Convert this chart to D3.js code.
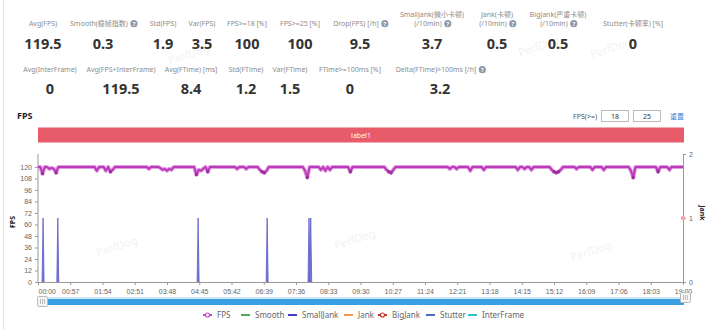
<!DOCTYPE html>
<html><head><meta charset="utf-8">
<script src="https://cdn.jsdelivr.net/npm/d3@7/dist/d3.min.js"></script>
<style>
html,body{margin:0;padding:0;background:#fff;}
svg{display:block;font-family:"Noto Sans","Noto Sans CJK SC",sans-serif;}
</style></head>
<body>
<svg id="c" width="720" height="330"></svg>
<script>
// ---------- DATA ----------
const statLabels1 = [["Avg(FPS)"],["Smooth(稳帧指数)"],["Std(FPS)"],["Var(FPS)"],["FPS>=18 [%]"],["FPS>=25 [%]"],["Drop(FPS) [/h]"],["SmallJank(微小卡顿)","(/10min)"],["Jank(卡顿)","(/10min)"],["BigJank(严重卡顿)","(/10min)"],["Stutter(卡顿率) [%]"]];
const statValues1 = ["119.5","0.3","1.9","3.5","100","100","9.5","3.7","0.5","0.5","0"];
const statHelp1 = [false,true,false,false,false,false,true,true,true,true,false];
const statLabels2 = ["Avg(InterFrame)","Avg(FPS+InterFrame)","Avg(FTime) [ms]","Std(FTime)","Var(FTime)","FTime>=100ms [%]","Delta(FTime)>100ms [/h]"];
const statValues2 = ["0","119.5","8.4","1.2","1.5","0","3.2"];
const statHelp2 = [false,false,false,false,false,false,true];

const xTickLabels = ["00:00","00:57","01:54","02:51","03:48","04:45","05:42","06:39","07:36","08:33","09:30","10:27","11:24","12:21","13:18","14:15","15:12","16:09","17:06","18:03","19:00"];
const yTicks = [0,12,24,36,48,60,72,84,96,108,120];
const yRightTicks = [0,1,2];
const fpsStep = 4; // seconds between FPS samples
const fpsValues = [
120,120,113,120,120,118,119,118,114,120,120,120,120,120,120,120,120,120,120,120,
120,120,120,120,120,120,116,120,120,120,116,120,115,117,120,120,120,120,120,120,
120,120,120,120,120,120,120,120,120,118,120,120,120,120,119,117,118,116,118,117,
120,120,120,120,120,120,120,120,120,120,112,117,116,118,120,115,120,120,120,120,
120,120,120,120,120,120,120,120,118,120,120,120,118,120,120,120,120,120,117,115,
114,116,120,120,120,120,120,120,120,120,120,120,120,120,120,120,120,120,116,109,
120,120,120,120,120,117,120,116,120,117,120,120,120,120,120,120,120,120,115,120,
120,120,120,120,120,120,120,120,120,120,120,120,120,120,117,115,114,117,120,120,
120,120,120,120,120,120,120,120,120,120,120,120,120,120,120,120,120,120,120,120,
120,120,118,120,120,118,120,120,120,120,120,116,120,120,120,120,120,117,120,120,
120,120,120,120,120,120,120,120,120,120,120,120,117,120,120,118,120,120,117,120,
120,120,120,120,120,120,120,117,115,114,115,117,120,120,120,120,120,120,118,120,
120,120,120,120,120,117,120,120,120,120,117,120,120,120,120,120,120,120,120,120,
120,120,116,109,120,120,120,120,120,120,120,120,120,120,115,120,120,120,120,117,
120,120,120,120,120,120];
const smallJankTimes = [9,35,283,405,479,482];
const smallJankValues = [1,1,1,1,1,1];
const bigJankTimes = [1140];
const bigJankValues = [1];
const legendNames = ["FPS","Smooth","SmallJank","Jank","BigJank","Stutter","InterFrame"];
const legendColors = ["#c44dc4","#4caf50","#3f3fc9","#f39a4a","#c0392b","#4a6fc1","#2ec4c4"];

// ---------- DRAW ----------
const svg = d3.select("#c");
svg.append("rect").attr("width",720).attr("height",330).attr("fill","#fff");
svg.append("line").attr("x1",3.5).attr("x2",3.5).attr("y1",0).attr("y2",330).attr("stroke","#e4e4e4");

// watermarks
[[190,58],[540,50],[612,52],[118,250],[356,243],[592,255]].forEach(p=>{
  svg.append("text").attr("x",p[0]).attr("y",p[1]).attr("transform",`rotate(-18,${p[0]},${p[1]})`)
    .attr("text-anchor","middle").attr("font-size",11).attr("fill","#000").attr("opacity",0.05).text("PerfDog");
});

function help(g,x,y){
  g.append("circle").attr("cx",x).attr("cy",y).attr("r",3.6).attr("fill","#8f9ba8");
  g.append("text").attr("x",x).attr("y",y+2.3).attr("text-anchor","middle").attr("font-size",5.5).attr("font-weight","bold").attr("fill","#fff").text("?");
}
const labelColor = "#8c8c8c";
const st = svg.append("g");
const stX1 = [43,103,163,202,247,300,360,432,497,558,633];
statLabels1.forEach((lab,i)=>{
  const lines = lab;
  const ys = lines.length===2 ? [17,26] : [26];
  lines.forEach((t,j)=>{
    const tx = st.append("text").attr("x",stX1[i] - ((statHelp1[i] && j===lines.length-1)?4:0)).attr("y",ys[j])
      .attr("text-anchor","middle").attr("font-size",7).attr("fill",labelColor).text(t);
    if(statHelp1[i] && j===lines.length-1){
      const w = tx.node().getComputedTextLength();
      help(st, stX1[i]-4 + w/2 + 6, ys[j]-2.3);
    }
  });
  st.append("text").attr("x",stX1[i]).attr("y",49).attr("text-anchor","middle")
    .attr("font-size",14.5).attr("font-weight","bold").attr("fill","#333").text(statValues1[i]);
});
const stX2 = [50,121,191,246,290,350,440];
statLabels2.forEach((t,i)=>{
  const tx = st.append("text").attr("x",stX2[i] - (statHelp2[i]?4:0)).attr("y",72).attr("text-anchor","middle")
    .attr("font-size",7).attr("fill",labelColor).text(t);
  if(statHelp2[i]){ const w = tx.node().getComputedTextLength(); help(st, stX2[i]-4+w/2+6, 69.7); }
  st.append("text").attr("x",stX2[i]).attr("y",94).attr("text-anchor","middle")
    .attr("font-size",14.5).attr("font-weight","bold").attr("fill","#333").text(statValues2[i]);
});

// section header and controls
svg.append("text").attr("x",17).attr("y",119).attr("font-size",9).attr("font-weight","bold").attr("fill","#222").text("FPS");
svg.append("text").attr("x",597).attr("y",119).attr("text-anchor","end").attr("font-size",7).attr("fill","#555").text("FPS(>=)");
[["18",601],["25",633]].forEach(b=>{
  svg.append("rect").attr("x",b[1]+0.5).attr("y",110.5).attr("width",27).attr("height",11).attr("fill","#fff").attr("stroke","#bbb");
  svg.append("text").attr("x",b[1]+14).attr("y",119).attr("text-anchor","middle").attr("font-size",7).attr("fill","#333").text(b[0]);
});
svg.append("text").attr("x",677).attr("y",119).attr("text-anchor","middle").attr("font-size",7).attr("fill","#3d7fd6").text("重置");

// label bar
svg.append("rect").attr("x",38).attr("y",127.5).attr("width",646).attr("height",15).attr("fill","#e85b6b");
svg.append("text").attr("x",361).attr("y",137.5).attr("text-anchor","middle").attr("font-size",7).attr("fill","#fff").text("label1");

// scales
const x = d3.scaleLinear().domain([0,1140]).range([38,683]);
const yL = d3.scaleLinear().domain([0,133.5]).range([282,154]);
const yR = d3.scaleLinear().domain([0,2]).range([282,154]);
const parseT = s => { const p=s.split(":"); return (+p[0])*60 + (+p[1]); };

// axes
const gx = svg.append("g").attr("transform","translate(0,282)")
  .call(d3.axisBottom(x).tickValues(xTickLabels.map(parseT)).tickFormat((d,i)=>xTickLabels[i]).tickSize(3).tickSizeOuter(0));
gx.selectAll("text").attr("font-size",7).attr("fill","#666").attr("dy","0.9em");
gx.selectAll("text").filter((d,i)=>i===0).attr("text-anchor","start");
const gy = svg.append("g").attr("transform","translate(38,0)")
  .call(d3.axisLeft(yL).tickValues(yTicks).tickSize(3).tickSizeOuter(0));
gy.selectAll("text").attr("font-size",7).attr("fill","#666");
gy.select(".domain").attr("d","M0,154V282");
const gr = svg.append("g").attr("transform","translate(683,0)")
  .call(d3.axisRight(yR).tickValues(yRightTicks).tickFormat(d3.format("d")).tickSize(3).tickSizeOuter(0));
gr.selectAll("text").attr("font-size",7).attr("fill","#666");
[gx,gy,gr].forEach(g=>{ g.select(".domain").attr("stroke","#999"); g.selectAll(".tick line").attr("stroke","#999"); });

svg.append("text").attr("transform","translate(15,222) rotate(-90)").attr("text-anchor","middle")
  .attr("font-size",7).attr("font-weight","bold").attr("fill","#222").text("FPS");
svg.append("text").attr("transform","translate(700,213) rotate(90)").attr("text-anchor","middle")
  .attr("font-size",7).attr("font-weight","bold").attr("fill","#222").text("Jank");

// small jank spikes (right axis)
const sj = smallJankTimes.map((t,i)=>({t, v:smallJankValues[i]}));
svg.append("g").selectAll("path").data(sj).join("path")
  .attr("d",d=>`M${x(d.t)-1},${yR(0)}L${x(d.t)},${yR(d.v)}L${x(d.t)+1},${yR(0)}`)
  .attr("fill","#7b7bd6").attr("stroke","#5c5cc8").attr("stroke-width",0.8);

// FPS line
const fps = fpsValues.map((v,i)=>({t:i*fpsStep, v}));
svg.append("path").datum(fps)
  .attr("d",d3.line().x(d=>x(d.t)).y(d=>yL(d.v)))
  .attr("fill","none").attr("stroke","#e39be3").attr("stroke-width",4).attr("stroke-linejoin","round");
svg.append("path").datum(fps)
  .attr("d",d3.line().x(d=>x(d.t)).y(d=>yL(d.v)))
  .attr("fill","none").attr("stroke","#b93bb9").attr("stroke-width",2).attr("stroke-linejoin","round");
svg.append("g").selectAll("circle").data(fps.filter(d=>d.v<=115)).join("circle")
  .attr("cx",d=>x(d.t)).attr("cy",d=>yL(d.v)).attr("r",1.7).attr("fill","#9c2f9c");

// big jank marker
bigJankTimes.forEach((t,i)=>{
  svg.append("circle").attr("cx",x(t)).attr("cy",yR(bigJankValues[i])).attr("r",2.2).attr("fill","#f2a5ae");
});

// slider
svg.append("rect").attr("x",38).attr("y",297).attr("width",646).attr("height",2).attr("fill","#cfe6f7");
svg.append("rect").attr("x",38).attr("y",299).attr("width",646).attr("height",6).attr("fill","#3a9fe2");
[[37,296],[680,292]].forEach(h=>{
  svg.append("rect").attr("x",h[0]+0.5).attr("y",h[1]+0.5).attr("width",10).attr("height",10).attr("rx",1).attr("fill","#f4f4f4").attr("stroke","#bbb");
  [3,5,7].forEach(o=>svg.append("line").attr("x1",h[0]+o+0.5).attr("x2",h[0]+o+0.5).attr("y1",h[1]+3).attr("y2",h[1]+8).attr("stroke","#999").attr("stroke-width",0.6));
});

// legend
const legX = [203,241,288,344,378,426,468];
const lg = svg.append("g");
legendNames.forEach((n,i)=>{
  const cx = legX[i];
  lg.append("line").attr("x1",cx).attr("x2",cx+9).attr("y1",315).attr("y2",315).attr("stroke",legendColors[i]).attr("stroke-width",2);
  if(i===0 || i===4) lg.append("circle").attr("cx",cx+4.5).attr("cy",315).attr("r",2).attr("fill","#fff").attr("stroke",legendColors[i]).attr("stroke-width",1.2);
  lg.append("text").attr("x",cx+14).attr("y",318).attr("font-size",8).attr("fill","#666").text(n);
});
</script>
</body></html>
